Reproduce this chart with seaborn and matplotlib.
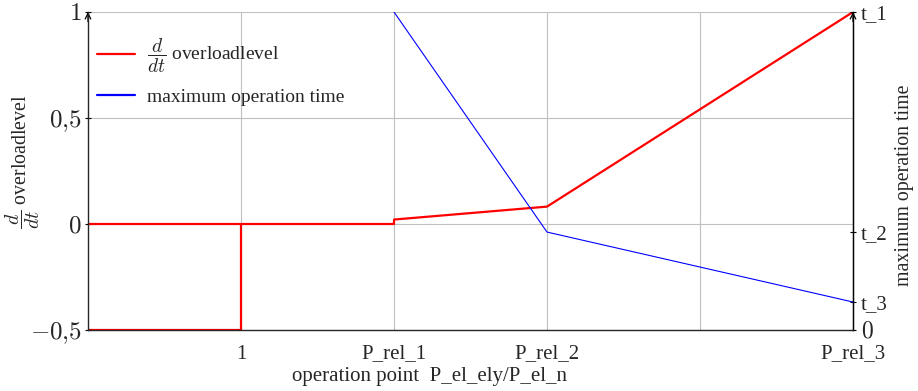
import seaborn as sns
import matplotlib
matplotlib.use("Agg")
import matplotlib.pyplot as plt
from matplotlib.lines import Line2D

# red curve: d/dt overloadlevel (two pieces)
red_low_x = [0, 1, 1]
red_low_y = [-0.5, -0.5, 0]
red_x = [0, 2, 2, 3, 5]
red_y = [0, 0, 0.021, 0.082, 1]

# blue curve: maximum operation time (right axis, 0..t_1)
blue_x = [2, 3, 5]
blue_y = [1, 0.308, 0.088]

x_ticks = [1, 2, 3, 4, 5]
x_labels = ['1', 'P_rel_1', 'P_rel_2', '', 'P_rel_3']
y_ticks = [-0.5, 0, 0.5, 1]
y_labels = ['$-0{,}5$', '$0$', '$0{,}5$', '$1$']
t_ticks = [0, 0.088, 0.308, 1]
t_labels = ['$0$', 't_3', 't_2', 't_1']

sns.set_style('white')
plt.rcParams['font.family'] = ['Liberation Serif', 'DejaVu Serif']
plt.rcParams['mathtext.fontset'] = 'cm'

fig = plt.figure(figsize=(9.18, 3.91), dpi=100)
ax = fig.add_axes([88 / 918, 1 - 330 / 391, (853 - 88) / 918, (330 - 12) / 391])

sns.lineplot(x=red_low_x, y=red_low_y, ax=ax, color='red', lw=1.6,
             sort=False, estimator=None)
sns.lineplot(x=red_x, y=red_y, ax=ax, color='red', lw=1.6,
             sort=False, estimator=None)

ax.set_xlim(0, 5)
ax.set_ylim(-0.5, 1)
ax.set_xticks(x_ticks)
ax.set_xticklabels(x_labels, fontsize=15)
ax.set_yticks(y_ticks)
ax.set_yticklabels(y_labels, fontsize=18)
ax.grid(True, color='#c0c0c0', lw=0.8)
ax.set_axisbelow(True)
ax.tick_params(direction='inout', length=5, width=0.8, color='black')
ax.tick_params(axis='x', pad=8)
ax.tick_params(axis='y', pad=2)
for s in ['left', 'bottom', 'right']:
    ax.spines[s].set_color('black')
    ax.spines[s].set_linewidth(0.9)
ax.spines['top'].set_visible(False)
ax.set_xlabel('operation point  P_el_ely/P_el_n', fontsize=15)
ax.xaxis.set_label_coords(0.446, -0.115)
ax.set_ylabel(r'$\dfrac{d}{dt}$ overloadlevel', fontsize=14.3)
ax.yaxis.set_label_coords(-0.06, 0.53)

ax2 = ax.twinx()
sns.lineplot(x=blue_x, y=blue_y, ax=ax2, color='blue', lw=0.8,
             sort=False, estimator=None)
ax2.set_ylim(0, 1)
ax2.set_yticks(t_ticks)
ax2.set_yticklabels(t_labels, fontsize=15)
ax2.get_yticklabels()[0].set_fontsize(17)
ax2.tick_params(direction='inout', length=5, width=0.8, color='black', pad=3)
ax2.spines['top'].set_visible(False)
ax2.spines['right'].set_color('black')
ax2.spines['right'].set_linewidth(0.9)
ax2.set_ylabel('maximum operation time', fontsize=14.3)
ax2.yaxis.set_label_coords(1.055, 0.455)

# arrow heads on top of the y axes
for xa in [0, 1]:
    ax.annotate('', xy=(xa, 1.0), xytext=(xa, 0.97), xycoords='axes fraction',
                arrowprops=dict(arrowstyle='->', lw=0.9, color='black',
                                shrinkA=0, shrinkB=0))

handles = [Line2D([], [], color='red', lw=1.6),
           Line2D([], [], color='blue', lw=1.6)]
ax.legend(handles, [r'$\dfrac{d}{dt}$ overloadlevel', 'maximum operation time'],
          loc='upper left', bbox_to_anchor=(0.0, 0.948), frameon=False,
          fontsize=14, handlelength=1.95, handletextpad=0.65, labelspacing=0.68,
          borderaxespad=0.05)

fig.savefig('out.png', dpi=100)
